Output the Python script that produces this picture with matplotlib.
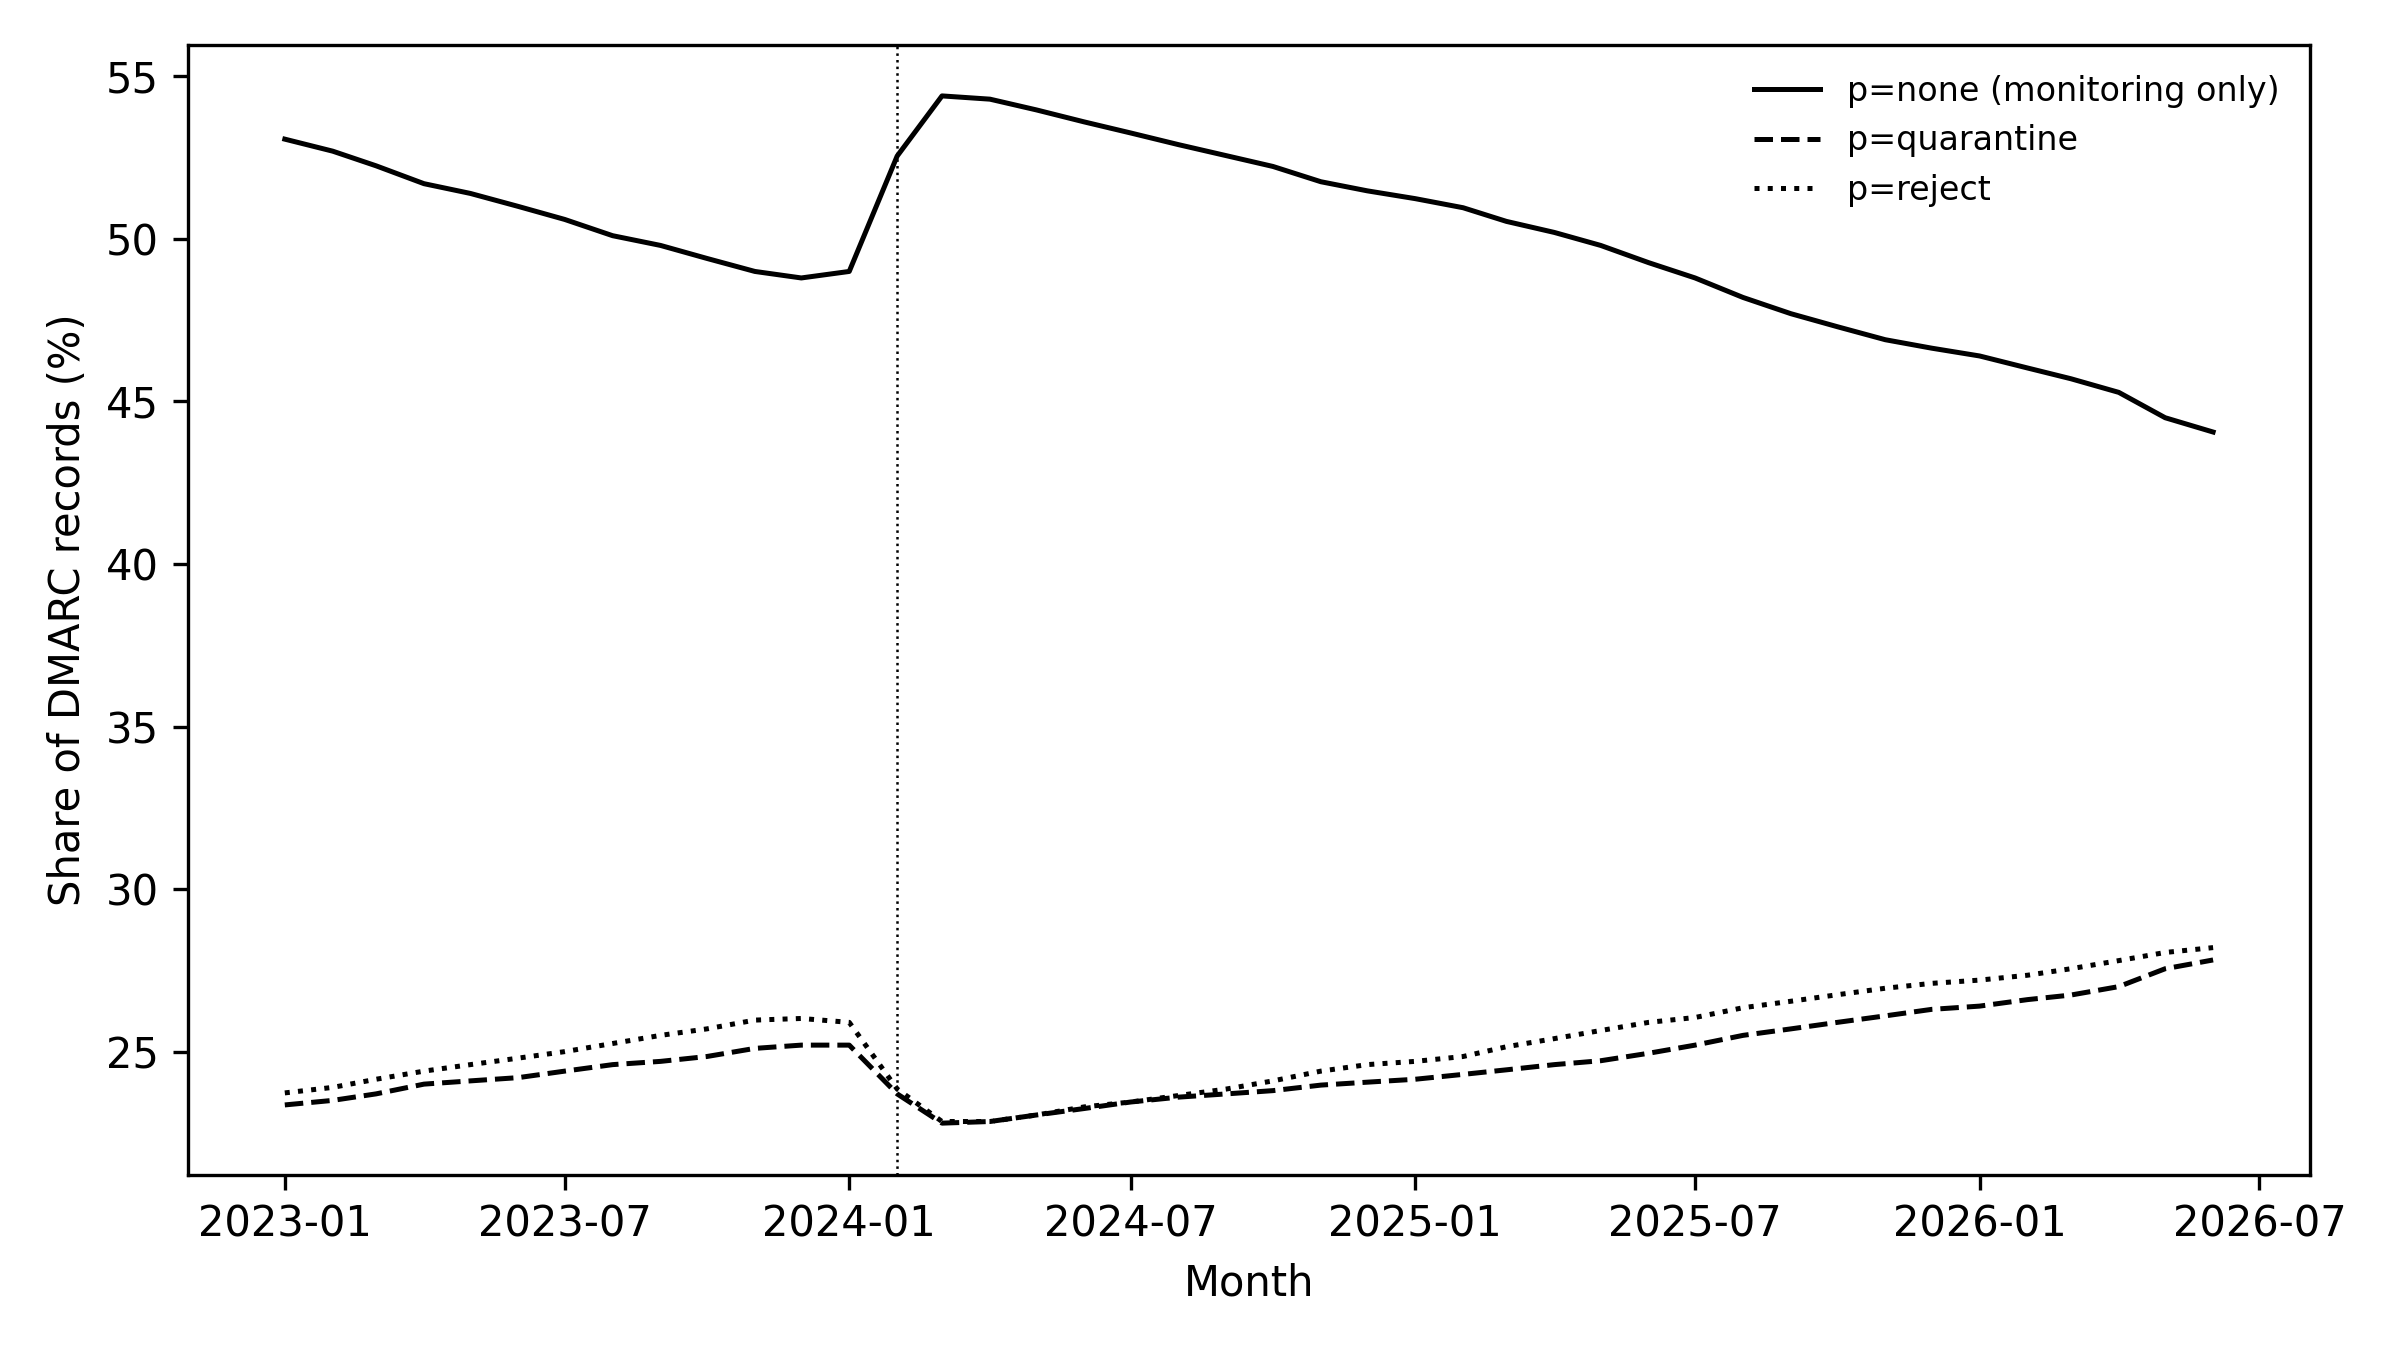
"""
DMARC policy share over time
"""

import matplotlib
matplotlib.use('Agg')
import matplotlib.pyplot as plt
import matplotlib.dates as mdates
import pandas as pd

# ==========================================
# DATA
# ==========================================
months = pd.date_range('2023-01-01', '2026-06-01', freq='MS')

p_none = [53.07, 52.7, 52.25, 51.7, 51.4, 51.0, 50.6, 50.1, 49.8, 49.4, 49.0, 48.8,
          49.0, 52.55, 54.4, 54.3, 53.97, 53.6, 53.26, 52.9, 52.56, 52.23, 51.76, 51.48,
          51.24, 50.96, 50.54, 50.2, 49.8, 49.27, 48.8, 48.2, 47.7, 47.3, 46.9, 46.64,
          46.4, 46.03, 45.7, 45.28, 44.5, 44.06]

p_quarantine = [23.36, 23.5, 23.7, 24.0, 24.1, 24.2, 24.4, 24.6, 24.7, 24.85, 25.1, 25.2,
                25.2, 23.7, 22.8, 22.85, 23.05, 23.25, 23.45, 23.6, 23.7, 23.8, 23.97, 24.06,
                24.15, 24.3, 24.44, 24.6, 24.72, 24.95, 25.2, 25.5, 25.7, 25.9, 26.1, 26.3,
                26.4, 26.6, 26.74, 27.0, 27.55, 27.82]

p_reject = [23.73, 23.9, 24.15, 24.4, 24.6, 24.8, 25.0, 25.25, 25.5, 25.7, 25.97, 26.02,
            25.9, 23.85, 22.85, 22.85, 23.05, 23.3, 23.45, 23.65, 23.85, 24.1, 24.4, 24.6,
            24.7, 24.85, 25.15, 25.4, 25.65, 25.9, 26.05, 26.35, 26.55, 26.75, 26.95, 27.1,
            27.2, 27.35, 27.55, 27.8, 28.05, 28.2]

event_month = pd.Timestamp('2024-02-01')

# ==========================================
# PLOT
# ==========================================
fig, ax = plt.subplots(figsize=(8, 4.5), dpi=300)

ax.plot(months, p_none, color='black', linestyle='-', linewidth=1.2,
        label='p=none (monitoring only)')
ax.plot(months, p_quarantine, color='black', linestyle='--', linewidth=1.2,
        label='p=quarantine')
ax.plot(months, p_reject, color='black', linestyle=':', linewidth=1.2,
        label='p=reject')

ax.axvline(event_month, color='black', linestyle=':', linewidth=0.6)

ax.xaxis.set_major_locator(mdates.MonthLocator(bymonth=[1, 7]))
ax.xaxis.set_major_formatter(mdates.DateFormatter('%Y-%m'))

ax.set_xlabel('Month')
ax.set_ylabel('Share of DMARC records (%)')
ax.legend(loc='upper right', frameon=False, fontsize=8)

fig.subplots_adjust(left=0.0785, right=0.9623, top=0.967, bottom=0.130)

plt.savefig('out.png', dpi=300)
plt.close()
